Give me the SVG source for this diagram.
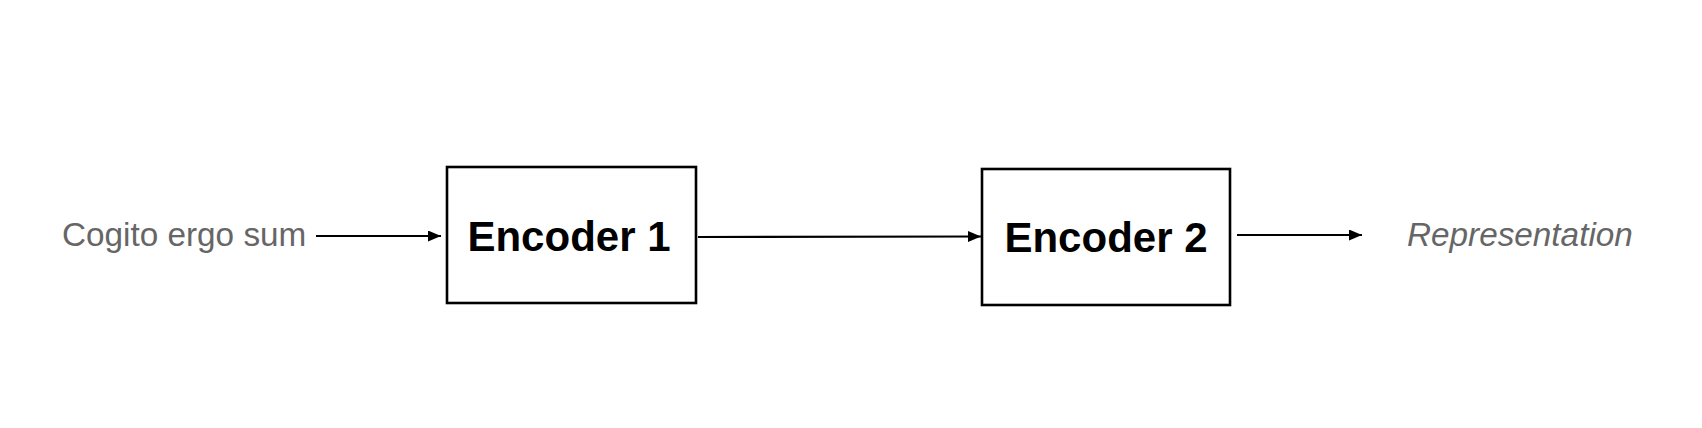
<svg xmlns="http://www.w3.org/2000/svg" width="1702" height="428" viewBox="0 0 1702 428">
<defs>
<marker id="ah" viewBox="0 0 13 11" refX="13" refY="5.5" markerWidth="13" markerHeight="11" markerUnits="userSpaceOnUse" orient="auto">
<path d="M0,0 L13,5.5 L0,11 Z" fill="#000"/>
</marker>
<style>
.box{fill:#fff;stroke:#000;stroke-width:2.6}
.lbl{font-family:"Liberation Sans",Arial,sans-serif;font-weight:bold;font-size:42px;fill:#000;text-anchor:middle}
.io{font-family:"Liberation Sans",Arial,sans-serif;font-size:33.3px;fill:#666}
.edge{stroke:#000;stroke-width:2.2;fill:none;marker-end:url(#ah)}
</style>
</defs>
<rect width="1702" height="428" fill="#fff"/>
<g id="input"><text class="io" x="62" y="246">Cogito ergo sum</text></g>
<g id="encoder1"><rect class="box" x="447" y="167" width="249" height="136"/><text class="lbl" x="569" y="251">Encoder 1</text></g>
<g id="encoder2"><rect class="box" x="982" y="169" width="248" height="136"/><text class="lbl" x="1106" y="252" font-size="42.6">Encoder 2</text></g>
<g id="output"><text class="io" x="1407" y="246" font-style="italic" font-size="32.2">Representation</text></g>
<g id="connectors">
<line class="edge" x1="316" y1="236" x2="441" y2="236"/>
<line class="edge" x1="698" y1="237" x2="981" y2="236.5"/>
<line class="edge" x1="1237" y1="235" x2="1362" y2="235"/>
</g>
</svg>
